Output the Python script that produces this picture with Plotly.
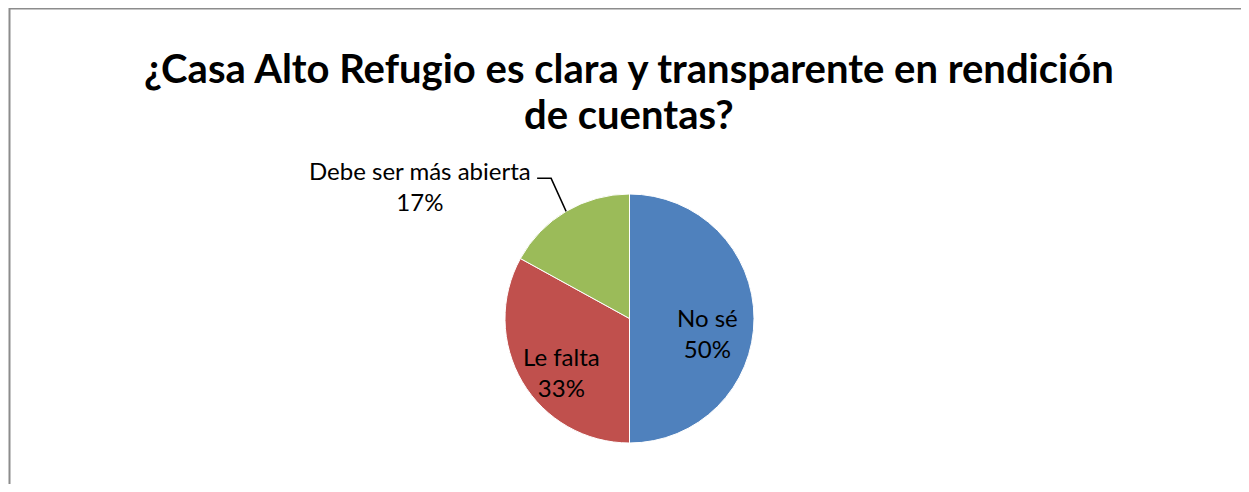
import math
import plotly.graph_objects as go

# ---- data ----
labels = ["No sé", "Le falta", "Debe ser más abierta"]
values = [50, 33, 17]
colors = ["#4F81BD", "#C0504D", "#9BBB59"]
title_lines = ["¿Casa Alto Refugio es clara y transparente en rendición", "de cuentas?"]

W, H = 1249, 492
OFF = 8  # page body margin
FW, FH = W - 2 * OFF, H - 2 * OFF
# pie geometry (page pixels)
CX, CY, R = 629.5, 318.5, 124.5

def px(x):
    return (x - OFF) / FW

def py(y):
    return 1 - (y - OFF) / FH

fig = go.Figure()
fig.add_trace(go.Pie(
    labels=labels,
    values=values,
    sort=False,
    direction="clockwise",
    rotation=0,
    marker=dict(colors=colors, line=dict(color="white", width=1)),
    textinfo="none",
    hoverinfo="label+percent",
    showlegend=False,
    domain=dict(x=[px(CX - R), px(CX + R)], y=[py(CY + R), py(CY - R)]),
))

total = sum(values)
fracs = [v / total for v in values]
annotations = []
shapes = []
FONT = "Lato, 'Open Sans', sans-serif"
cum = 0.0
for lab, f in zip(labels, fracs):
    mid = (cum + f / 2) * 2 * math.pi  # clockwise from 12 o'clock
    cum += f
    sx, sy = math.sin(mid), -math.cos(mid)  # screen direction (y down)
    pct = f"{round(f * 100)}%"
    if f >= 0.25:
        rr = 0.63 * R
        tx, ty = CX + sx * rr, CY + sy * rr + 14
        annotations.append(dict(
            x=px(tx), y=py(ty), xref="paper", yref="paper",
            text=f"{lab}<br>{pct}", showarrow=False,
            xanchor="center", yanchor="middle", align="center",
            font=dict(family=FONT, size=24, color="#000000"),
        ))
    else:
        ex, ey = CX + sx * R, CY + sy * R
        elx, ely = ex - 15, ey - 33
        hx = elx - 14
        shapes.append(dict(
            type="path", xref="paper", yref="paper",
            path=f"M {px(ex)},{py(ey)} L {px(elx)},{py(ely)} L {px(hx)},{py(ely)}",
            line=dict(color="#000000", width=1.5),
        ))
        annotations.append(dict(
            x=px(hx - 4), y=py(ely + 8), xref="paper", yref="paper",
            text=f"{lab}<br>{pct}", showarrow=False,
            xanchor="right", yanchor="middle", align="center",
            font=dict(family=FONT, size=24, color="#000000"),
        ))

for i, line in enumerate(title_lines):
    annotations.append(dict(
        x=px(629), y=py(68 + 46 * i), xref="paper", yref="paper",
        text=f"<b>{line}</b>", showarrow=False,
        xanchor="center", yanchor="middle", align="center",
        font=dict(family=FONT, size=40, color="#000000"),
    ))

shapes.append(dict(
    type="rect", xref="paper", yref="paper",
    x0=px(9.5), x1=1.05, y0=-0.05, y1=py(8.5),
    line=dict(color="#8C8C8C", width=2), fillcolor="rgba(0,0,0,0)",
))

fig.update_layout(
    width=FW, height=FH,
    margin=dict(l=0, r=0, t=0, b=0),
    paper_bgcolor="white", plot_bgcolor="white",
    annotations=annotations, shapes=shapes,
)

fig.write_html("out.html")
